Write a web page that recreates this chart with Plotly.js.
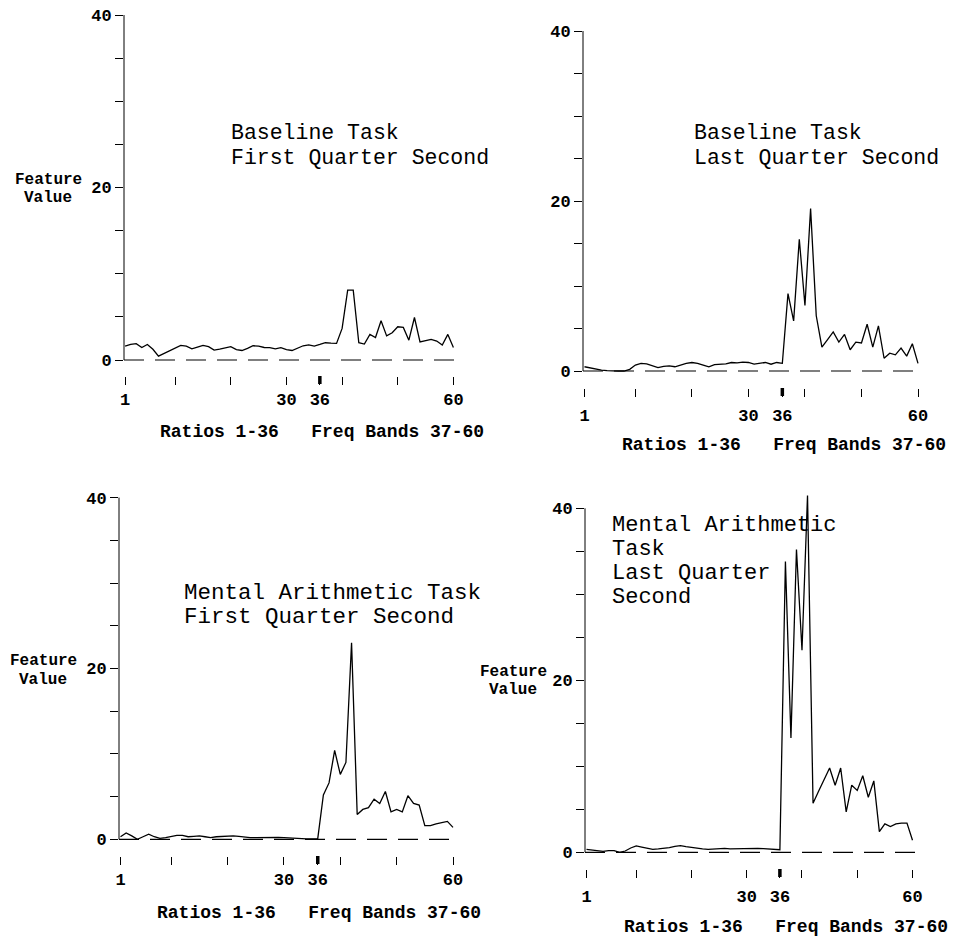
<!DOCTYPE html>
<html><head><meta charset="utf-8">
<script src="https://cdn.plot.ly/plotly-3.0.1.min.js"></script>
<style>html,body{margin:0;padding:0;background:#fff}#chart{width:974px;height:936px}</style>
</head><body><div id="chart"></div>
<script>
// ---- data ----
const features = [1,2,3,4,5,6,7,8,9,10,11,12,13,14,15,16,17,18,19,20,21,22,23,24,25,26,27,28,29,30,
  31,32,33,34,35,36,37,38,39,40,41,42,43,44,45,46,47,48,49,50,51,52,53,54,55,56,57,58,59,60];
const baselineFirst = [1.6,1.8,1.9,1.45,1.8,1.25,0.45,0.75,1.05,1.4,1.7,1.6,1.3,1.5,1.7,1.55,1.15,1.25,1.4,1.55,
  1.2,1.1,1.35,1.65,1.6,1.45,1.43,1.3,1.43,1.2,1.1,1.35,1.65,1.75,1.62,1.8,2.0,1.95,1.93,3.66,
  8.1,8.1,2.0,1.85,2.97,2.6,4.55,2.8,3.16,3.85,3.78,2.3,4.93,2.1,2.25,2.4,2.2,1.73,2.97,1.46];
const baselineLast = [0.5,0.35,0.2,0.1,0.05,0,0,0,0.2,0.7,0.9,0.85,0.6,0.4,0.55,0.6,0.5,0.7,0.9,1.0,
  0.9,0.7,0.5,0.75,0.8,0.85,1.0,0.95,1.05,1.0,0.8,0.9,1.0,0.8,1.0,0.9,9.1,5.9,15.5,7.7,
  19.1,6.5,2.8,3.7,4.6,3.4,4.3,2.5,3.4,3.3,5.5,2.8,5.3,1.5,2.1,1.9,2.7,1.75,3.2,0.9];
const arithFirst = [0.3,0.75,0.4,0.0,0.3,0.6,0.3,0.1,0.2,0.3,0.45,0.45,0.3,0.35,0.4,0.3,0.2,0.3,0.35,0.4,
  0.4,0.35,0.25,0.2,0.2,0.22,0.23,0.23,0.22,0.2,0.15,0.08,0.08,0.05,0.05,0.08,5.2,6.6,10.4,7.6,
  9.0,23.0,2.9,3.5,3.7,4.7,4.2,5.6,3.2,3.5,3.2,5.1,4.2,4.0,1.6,1.6,1.8,1.95,2.1,1.4];
const arithLast = [0.35,0.25,0.12,0.1,0.2,0.2,0,0.15,0.5,0.74,0.6,0.45,0.35,0.4,0.45,0.55,0.7,0.78,0.65,0.55,
  0.47,0.4,0.35,0.39,0.45,0.45,0.4,0.42,0.47,0.47,0.47,0.45,0.43,0.4,0.35,0.3,33.8,13.3,35.2,23.5,
  41.5,5.7,7.1,8.5,9.8,7.8,9.8,4.7,7.8,7.2,8.9,6.4,8.3,2.4,3.3,3.0,3.3,3.4,3.4,1.4];

const yTickVals = [0,5,10,15,20,25,30,35,40];
const yTickText = ['0','','','','20','','','','40'];
const xTickVals = [1,10,20,30,36,40,50,60];
const xTickText = ['1','','','30','36','','','60'];
const boundaryTick = 36;   // ratios / frequency-bands boundary, drawn as a heavy tick
const panelTitles = [
  ['Baseline Task','First Quarter Second'],
  ['Baseline Task','Last Quarter Second'],
  ['Mental Arithmetic Task','First Quarter Second'],
  ['Mental Arithmetic','Task','Last Quarter','Second']
];
const xTitleText = 'Ratios 1-36\u00a0\u00a0\u00a0Freq Bands 37-60';
const yTitleLines = ['Feature','Value'];
const series = [baselineFirst, baselineLast, arithFirst, arithLast];

// ---- layout geometry (pixels) ----
const W = 974, H = 936;
const FONT = 'Liberation Mono, Courier New, monospace';
const geo = [
  {ax:124, x1:125.1, x60:453.4, y0:360,   y40:15,    ymax:41.5, tick:376, std:0,
   title:{x:229, ys:[133,158], size:21.5}, xt:{x:158, y:432}, yt:{x:48, ys:[180,198]}},
  {ax:583, x1:584.5, x60:918,   y0:371,   y40:31,    ymax:43,   tick:388, std:4,
   title:{x:692, ys:[133,158], size:21.5}, xt:{x:620, y:445}, yt:null},
  {ax:119, x1:120.5, x60:453,   y0:839.3, y40:497.6, ymax:44,   tick:856, std:0,
   title:{x:182, ys:[593,617], size:22.5}, xt:{x:155, y:913}, yt:{x:43, ys:[661,680]}},
  {ax:585, x1:586.5, x60:912.5, y0:852.3, y40:508.3, ymax:44,   tick:869, std:4,
   title:{x:610, ys:[525,549,573,597], size:22}, xt:{x:622, y:927}, yt:{x:513, ys:[672,690]}}
];

const layout = {
  width: W, height: H, margin:{l:0,r:0,t:0,b:0},
  paper_bgcolor:'#fff', plot_bgcolor:'rgba(0,0,0,0)',
  showlegend:false, shapes:[], annotations:[]
};
const traces = [];
const tickFont = {family:FONT, size:17, color:'#000', weight:'bold'};

function ann(text, x, y, size, bold, anchor){
  layout.annotations.push({text:text, xref:'paper', yref:'paper', x:x/W, y:1-y/H,
    xanchor:anchor||'left', yanchor:'middle', showarrow:false,
    font:{family:FONT, size:size, color:'#000', weight: bold ? 'bold' : 'normal'}});
}

geo.forEach((g, i) => {
  const k = i + 1;
  const xs = k === 1 ? '' : String(k);
  const unit = (g.x60 - g.x1) / 59;
  const right = g.x60 + 3;
  const xr = [1 - (g.x1 - g.ax) / unit, 60 + (right - g.x60) / unit];
  const s = (g.y0 - g.y40) / 40;
  const top = g.y0 - g.ymax * s;
  const yr = [-(g.tick - g.y0) / s, g.ymax];
  const xdom = [g.ax / W, right / W];
  const ydom = [1 - g.tick / H, 1 - top / H];

  layout['xaxis' + xs] = {domain:xdom, range:xr, anchor:'y' + xs, showline:false, zeroline:false,
    showgrid:false, ticks:'outside', ticklen:8, tickwidth:1, tickcolor:'#000', ticklabelstandoff:g.std,
    tickmode:'array', tickvals:xTickVals, ticktext:xTickText, tickfont:tickFont, fixedrange:true};
  layout['yaxis' + xs] = {domain:ydom, range:yr, anchor:'x' + xs, showline:false, zeroline:false,
    showgrid:false, ticks:'outside', ticklen:8, tickwidth:1, tickcolor:'#000',
    tickmode:'array', tickvals:yTickVals, ticktext:yTickText, tickfont:tickFont, fixedrange:true};

  // dashed zero baseline, vertical axis line, heavy boundary tick (decoration)
  layout.shapes.push({type:'line', xref:'x' + xs + ' domain', x0:0, x1:1, yref:'y' + xs, y0:0, y1:0,
    line:{color:'#000', width:1.2, dash:'20px,11px'}});
  layout.shapes.push({type:'line', xref:'x' + xs + ' domain', x0:0, x1:0, yref:'y' + xs, y0:0, y1:40,
    line:{color:'#000', width:1}});
  layout.shapes.push({type:'line', xref:'x' + xs, x0:boundaryTick, x1:boundaryTick, yref:'paper',
    y0:1 - (g.tick + 8) / H, y1:1 - g.tick / H, line:{color:'#000', width:3.5}});

  traces.push({x:features, y:series[i], xaxis:'x' + xs, yaxis:'y' + xs, mode:'lines',
    line:{color:'#000', width:1.3}, hoverinfo:'skip', showlegend:false, cliponaxis:false});

  panelTitles[i].forEach((t, j) => ann(t, g.title.x, g.title.ys[j], g.title.size, false, 'left'));
  ann(xTitleText, g.xt.x, g.xt.y, 18, true, 'left');
  if (g.yt) yTitleLines.forEach((t, j) => ann(t, g.yt.x, g.yt.ys[j], 16, true, 'center'));
});

Plotly.newPlot('chart', traces, layout, {staticPlot:true, displayModeBar:false});
</script>
</body></html>
